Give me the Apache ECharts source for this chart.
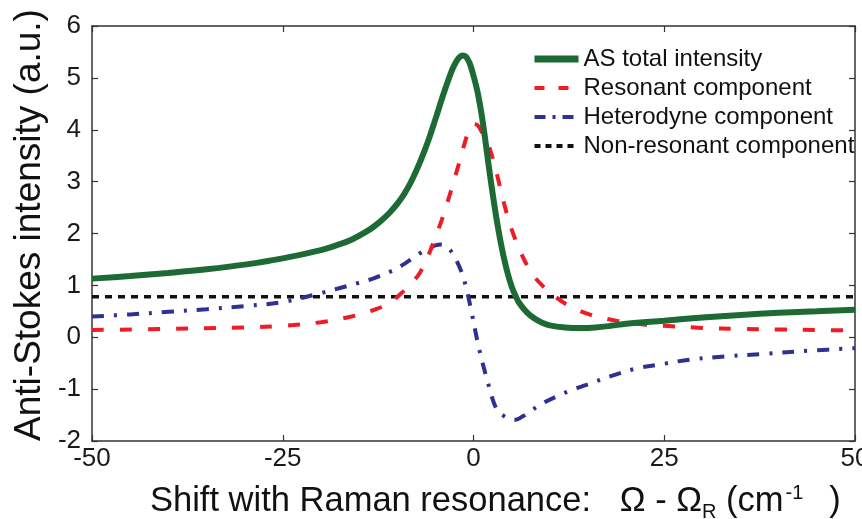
<!DOCTYPE html>
<html>
<head>
<meta charset="utf-8">
<script src="https://cdn.jsdelivr.net/npm/echarts@6/dist/echarts.min.js"></script>
<style>html,body{margin:0;padding:0;background:#fff;}#c{width:862px;height:519px;}</style>
</head>
<body>
<div id="c"></div>
<script>
// ---- data ----
const xTicks = [-50, -25, 0, 25, 50];
const yTicks = [-2, -1, 0, 1, 2, 3, 4, 5, 6];

const totalX = [-50,-45,-40,-35,-30,-25,-20,-18,-16,-14,-13,-12,-11,-10,-9,-8,-7,-6,-5,-4,-3,-2.5,-2,-1.5,-1,-0.5,0,0.5,1,1.5,2,2.5,3,3.5,4,4.5,5,5.5,6,7,8,9,10,12,14,16,18,20,25,30,35,40,45,50];
const totalY = [1.13,1.18,1.24,1.31,1.40,1.52,1.68,1.77,1.88,2.04,2.14,2.26,2.40,2.57,2.78,3.05,3.38,3.76,4.20,4.66,5.08,5.25,5.37,5.43,5.41,5.28,5.04,4.75,4.35,3.85,3.30,2.78,2.30,1.88,1.52,1.22,0.98,0.80,0.66,0.48,0.36,0.28,0.23,0.19,0.18,0.19,0.22,0.26,0.32,0.38,0.43,0.47,0.50,0.53];

const resX = [-50,-40,-30,-25,-20,-16,-13,-11,-9,-8,-7,-6,-5,-4,-3,-2,-1,-0.5,0,0.5,1,2,3,4,5,6,7,8,9,10,12,15,19,22,25,30,35,40,45,50];
const resY = [0.14,0.16,0.19,0.22,0.29,0.40,0.53,0.66,0.91,1.06,1.25,1.55,1.92,2.33,2.80,3.30,3.82,4.02,4.11,4.09,3.98,3.69,3.18,2.58,2.08,1.70,1.39,1.16,1.00,0.87,0.65,0.45,0.31,0.25,0.22,0.18,0.16,0.15,0.14,0.13];

const hetX = [-50,-45,-40,-35,-30,-25,-20,-17.5,-15,-13,-11,-10,-9,-8,-7,-6,-5,-4.2,-3.5,-3,-2.4,-1.6,-1,-0.3,0.7,1.9,3,4,5,5.5,6.5,7.4,9,10.9,13,14.8,18,21.4,25,28.4,33,38,44,50];
const hetY = [0.40,0.44,0.49,0.54,0.60,0.68,0.85,0.95,1.05,1.14,1.26,1.33,1.42,1.52,1.62,1.70,1.77,1.79,1.74,1.67,1.53,1.27,0.98,0.52,-0.20,-0.88,-1.38,-1.52,-1.58,-1.59,-1.52,-1.43,-1.28,-1.14,-1.01,-0.92,-0.75,-0.60,-0.51,-0.43,-0.37,-0.32,-0.26,-0.21];

const nrX = [-50, 50];
const nrY = [0.78, 0.78];

const seriesNames = ['AS total intensity', 'Resonant component', 'Heterodyne component', 'Non-resonant component'];
// --------------------------------------

const pairs = (xs, ys) => xs.map((x, i) => [x, ys[i]]);
const FONT = '"Liberation Sans", Arial, Helvetica, sans-serif';
const axisColor = '#333';

const styles = {
  total: {color: '#1d6a35', width: 6, type: 'solid'},
  res: {color: '#ee1d25', width: 4, type: [12, 16]},
  het: {color: '#2e3192', width: 4, type: [12, 10, 3, 10]},
  nr: {color: '#111', width: 3.5, type: [7, 6]}
};

const chart = echarts.init(document.getElementById('c'), null, {renderer: 'canvas'});
const baseX = {
  type: 'value', min: -50, max: 50, interval: 25,
  splitLine: {show: false},
  axisLine: {show: true, onZero: false, lineStyle: {color: axisColor, width: 1.5}},
  axisTick: {show: true, inside: true, length: 6, lineStyle: {color: axisColor, width: 1.2}}
};
const baseY = {
  type: 'value', min: -2, max: 6, interval: 1,
  splitLine: {show: false},
  axisLine: {show: true, onZero: false, lineStyle: {color: axisColor, width: 1.5}},
  axisTick: {show: true, inside: true, length: 6, lineStyle: {color: axisColor, width: 1.2}}
};

chart.setOption({
  animation: false,
  backgroundColor: '#fff',
  grid: {left: 92, right: 7, top: 26, bottom: 78, containLabel: false, outerBoundsMode: 'none'},
  xAxis: [
    Object.assign({}, baseX, {position: 'bottom',
      axisLabel: {show: true, fontSize: 26, color: '#1a1a1a', fontFamily: FONT, margin: 5,
        hideOverlap: false, showMaxLabel: true, showMinLabel: true,
        formatter: v => xTicks.includes(v) ? String(v) : ''}}),
    Object.assign({}, baseX, {position: 'top', axisLabel: {show: false}})
  ],
  yAxis: [
    Object.assign({}, baseY, {position: 'left',
      axisLabel: {show: true, fontSize: 26, color: '#1a1a1a', fontFamily: FONT, margin: 11,
        formatter: v => yTicks.includes(v) ? String(v) : ''}}),
    Object.assign({}, baseY, {position: 'right', axisLabel: {show: false}})
  ],
  legend: {
    orient: 'vertical', left: 531, top: 47, padding: 0,
    data: [
      {name: seriesNames[0], lineStyle: {width: 7, type: 'solid', color: styles.total.color}},
      {name: seriesNames[1], lineStyle: {width: styles.res.width, type: [10, 14], color: styles.res.color}},
      {name: seriesNames[2], lineStyle: {width: styles.het.width, type: [11, 7, 3, 7], color: styles.het.color}},
      {name: seriesNames[3], lineStyle: {width: 4, type: [6, 5], color: styles.nr.color}}
    ],
    itemWidth: 44, itemHeight: 14, itemGap: 5,
    itemStyle: {opacity: 0},
    textStyle: {fontSize: 24, color: '#111', fontFamily: FONT, lineHeight: 24},
    backgroundColor: 'transparent', borderWidth: 0
  },
  series: [
    {name: seriesNames[3], type: 'line', data: pairs(nrX, nrY), symbol: 'none', showSymbol: false, z: 2,
      lineStyle: styles.nr, itemStyle: {color: styles.nr.color}},
    {name: seriesNames[2], type: 'line', data: pairs(hetX, hetY), symbol: 'none', showSymbol: false, smooth: 0.35, z: 3,
      lineStyle: styles.het, itemStyle: {color: styles.het.color}},
    {name: seriesNames[1], type: 'line', data: pairs(resX, resY), symbol: 'none', showSymbol: false, smooth: 0.35, z: 4,
      lineStyle: styles.res, itemStyle: {color: styles.res.color}},
    {name: seriesNames[0], type: 'line', data: pairs(totalX, totalY), symbol: 'none', showSymbol: false, smooth: 0.4, z: 5,
      lineStyle: styles.total, itemStyle: {color: styles.total.color}}
  ],
  graphic: [
    {type: 'text', x: 30, y: 225, rotation: Math.PI / 2,
      style: {text: 'Anti-Stokes intensity (a.u.)', font: '37px ' + FONT, fill: '#111',
        align: 'center', verticalAlign: 'middle'}},
    {type: 'text', x: 150, y: 501,
      style: {text: 'Shift with Raman resonance:   Ω - Ω{sub|R} (cm{sup|-1})',
        font: '34.5px ' + FONT, fill: '#111', align: 'left', verticalAlign: 'middle',
        rich: {
          sub: {fontSize: 20, fontFamily: FONT, fill: '#111', padding: [22, 0, 0, 0]},
          sup: {fontSize: 20, fontFamily: FONT, fill: '#111', padding: [0, 26, 16, 2]}
        }}}
  ]
});
</script>
</body>
</html>
